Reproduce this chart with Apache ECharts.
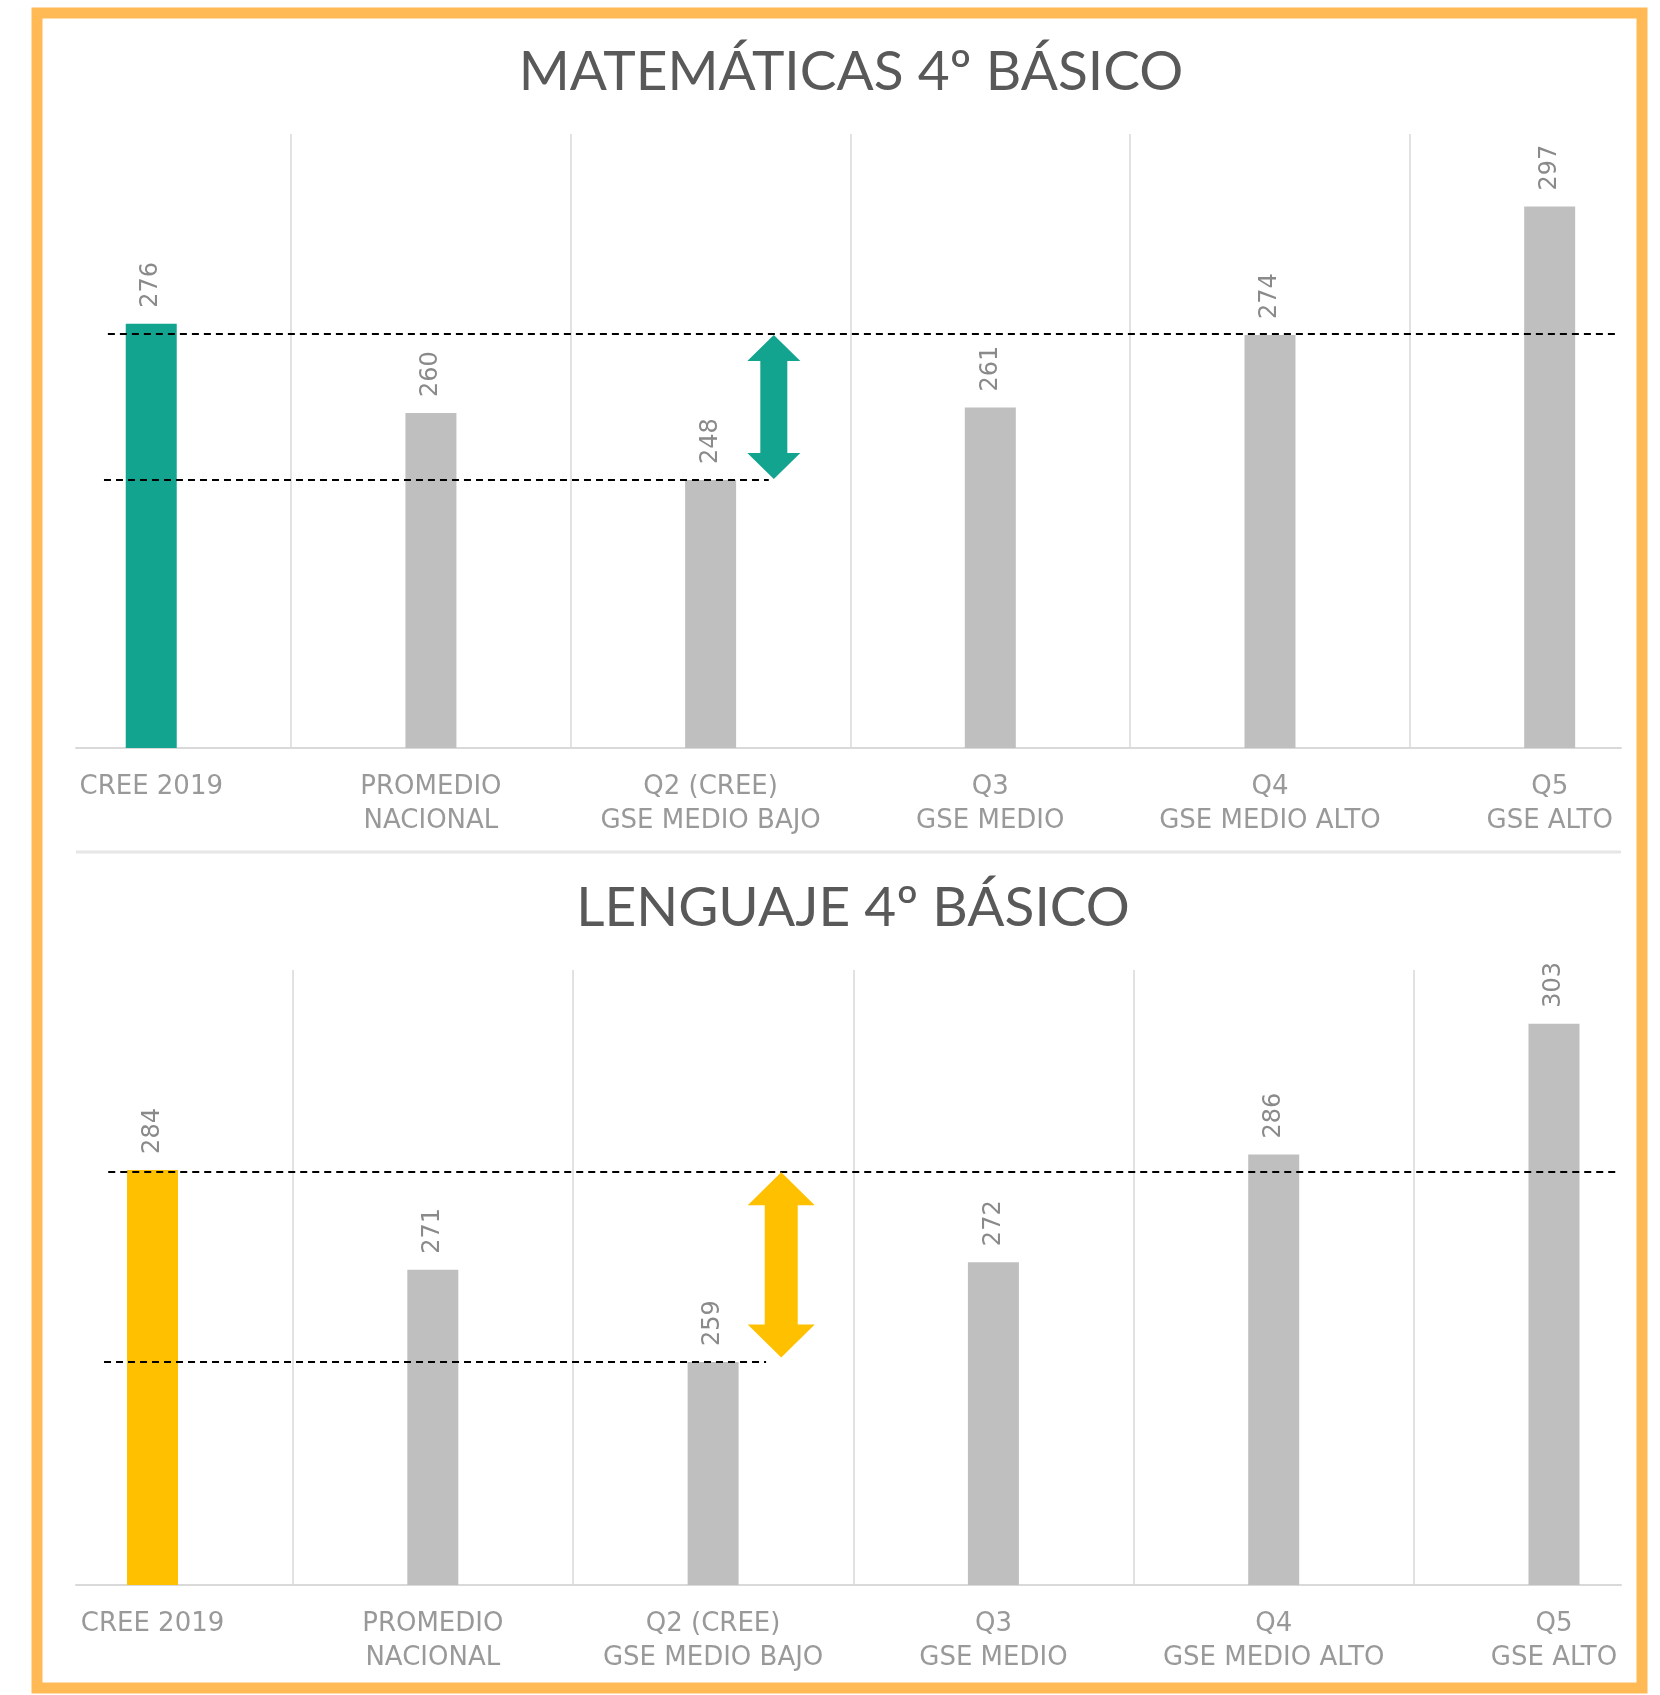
<!DOCTYPE html>
<html>
<head>
  <meta charset="utf-8">
  <title>SIMCE 4º básico</title>
  <script src="https://cdn.jsdelivr.net/npm/echarts@6.0.0/dist/echarts.min.js"></script>
  <style>
    html, body { margin: 0; padding: 0; background: #fff; }
    #main { width: 1660px; height: 1695px; }
  </style>
</head>
<body>
  <div id="main"></div>
  <script type="text/javascript">
    // categorias (iguales en ambos gráficos)
    var categories = ['CREE 2019', 'PROMEDIO\nNACIONAL', 'Q2 (CREE)\nGSE MEDIO BAJO', 'Q3\nGSE MEDIO', 'Q4\nGSE MEDIO ALTO', 'Q5\nGSE ALTO'];

    // puntajes
    var mathValues = [276, 260, 248, 261, 274, 297];
    var langValues = [284, 271, 259, 272, 286, 303];

    // rango del eje de valores
    var mathRange = [200, 310];
    var langRange = [230, 310];

    // rango del eje x (unidades de categoria)
    var mathX = [-0.269, 5.255];
    var langX = [-0.273, 5.239];

    // lineas punteadas de referencia: [valor, desde, hasta]
    var mathRefs = [[274.3, -0.155, 5.236], [248, -0.169, 2.208]];
    var langRefs = [[283.8, -0.158, 5.221], [259, -0.173, 2.189]];

    // flecha de brecha: [x, bajo, alto]
    var mathGap = [2.226, 248.2, 274.0];
    var langGap = [2.243, 259.6, 283.7];

    var GRAY = '#BFBFBF';
    var TEAL = '#12A48F';
    var YELLOW = '#FFC000';
    var LABEL_FONT = '"DejaVu Sans", sans-serif';

    var myChart = echarts.init(document.getElementById('main'));

    function barData(values, color) {
      return values.map(function (v, i) {
        return {
          value: [i, v],
          itemStyle: { color: i === 0 ? color : GRAY }
        };
      });
    }

    function refLines(refs) {
      return refs.map(function (r) {
        return [{ coord: [r[1], r[0]] }, { coord: [r[2], r[0]] }];
      });
    }

    function arrowItem(color, headW, shaftW, headH) {
      return function (params, api) {
        var top = api.coord([api.value(0), api.value(2)]);
        var bot = api.coord([api.value(0), api.value(1)]);
        var cx = top[0];
        var hw = headW / 2, sw = shaftW / 2;
        return {
          type: 'polygon',
          shape: {
            points: [
              [cx, top[1]],
              [cx + hw, top[1] + headH],
              [cx + sw, top[1] + headH],
              [cx + sw, bot[1] - headH],
              [cx + hw, bot[1] - headH],
              [cx, bot[1]],
              [cx - hw, bot[1] - headH],
              [cx - sw, bot[1] - headH],
              [cx - sw, top[1] + headH],
              [cx - hw, top[1] + headH]
            ]
          },
          style: { fill: color }
        };
      };
    }

    function buildSeries(idx, values, range, refs, gap, color, arrowDims) {
      return [{
        type: 'bar',
        xAxisIndex: idx,
        yAxisIndex: idx,
        barWidth: 51,
        data: barData(values, color),
        label: {
          show: true,
          position: 'top',
          rotate: 90,
          align: 'left',
          verticalAlign: 'middle',
          distance: 16,
          color: '#8a8a8a',
          fontFamily: LABEL_FONT,
          fontSize: 24,
          formatter: function (p) { return p.value[1]; }
        },
        markLine: {
          silent: true,
          symbol: 'none',
          label: { show: false },
          lineStyle: { type: 'solid', color: '#d9d9d9', width: 1.5 },
          data: [{ xAxis: 0.5 }, { xAxis: 1.5 }, { xAxis: 2.5 }, { xAxis: 3.5 }, { xAxis: 4.5 }]
        },
        z: 2
      }, {
        type: 'line',
        xAxisIndex: idx,
        yAxisIndex: idx,
        data: [],
        markLine: {
          silent: true,
          symbol: 'none',
          label: { show: false },
          lineStyle: { type: [7, 5], color: '#000', width: 2 },
          data: refLines(refs)
        },
        z: 4
      }, {
        type: 'custom',
        xAxisIndex: idx,
        yAxisIndex: idx,
        clip: false,
        renderItem: arrowItem(color, arrowDims[0], arrowDims[1], arrowDims[2]),
        data: [gap],
        z: 5
      }, {
        type: 'scatter',
        xAxisIndex: idx,
        yAxisIndex: idx,
        symbolSize: 0,
        clip: false,
        silent: true,
        data: categories.map(function (c, i) { return [i, range[0]]; }),
        label: {
          show: true,
          position: 'bottom',
          distance: 22,
          color: '#7f7f7f',
          fontFamily: LABEL_FONT,
          fontSize: 26,
          lineHeight: 34,
          align: 'center',
          formatter: function (p) { return categories[p.dataIndex]; }
        }
      }];
    }

    function xAxisCfg(idx, ext) {
      return {
        type: 'value',
        gridIndex: idx,
        min: ext[0],
        max: ext[1],
        axisLine: { show: true, onZero: false, lineStyle: { color: '#d9d9d9', width: 2 } },
        axisTick: { show: false },
        axisLabel: { show: false },
        splitLine: { show: false }
      };
    }

    function yAxisCfg(idx, range) {
      return {
        type: 'value',
        gridIndex: idx,
        min: range[0],
        max: range[1],
        show: false,
        splitLine: { show: false }
      };
    }

    var option = {
      backgroundColor: '#fff',
      animation: false,
      grid: [
        { left: 76, right: 39, top: 134, height: 614 },
        { left: 76, right: 39, top: 970, height: 615 }
      ],
      xAxis: [xAxisCfg(0, mathX), xAxisCfg(1, langX)],
      yAxis: [yAxisCfg(0, mathRange), yAxisCfg(1, langRange)],
      graphic: [{
        type: 'rect',
        shape: { x: 37, y: 13, width: 1605, height: 1675 },
        style: { fill: 'none', stroke: '#FFB955', lineWidth: 11 },
        silent: true
      }, {
        type: 'line',
        shape: { x1: 76, y1: 852, x2: 1621, y2: 852 },
        style: { stroke: '#e6e6e6', lineWidth: 3 },
        silent: true
      }, {
        type: 'text',
        x: 851,
        y: 72,
        style: {
          text: 'MATEMÁTICAS 4º BÁSICO',
          fill: '#595959',
          font: '55px Lato, sans-serif',
          textAlign: 'center',
          textVerticalAlign: 'middle'
        }
      }, {
        type: 'text',
        x: 853,
        y: 908,
        style: {
          text: 'LENGUAJE 4º BÁSICO',
          fill: '#595959',
          font: '55px Lato, sans-serif',
          textAlign: 'center',
          textVerticalAlign: 'middle'
        }
      }],
      series: [].concat(
        buildSeries(0, mathValues, mathRange, mathRefs, mathGap, TEAL, [53, 27, 26]),
        buildSeries(1, langValues, langRange, langRefs, langGap, YELLOW, [67, 33, 33])
      )
    };

    myChart.setOption(option);
  </script>
</body>
</html>
